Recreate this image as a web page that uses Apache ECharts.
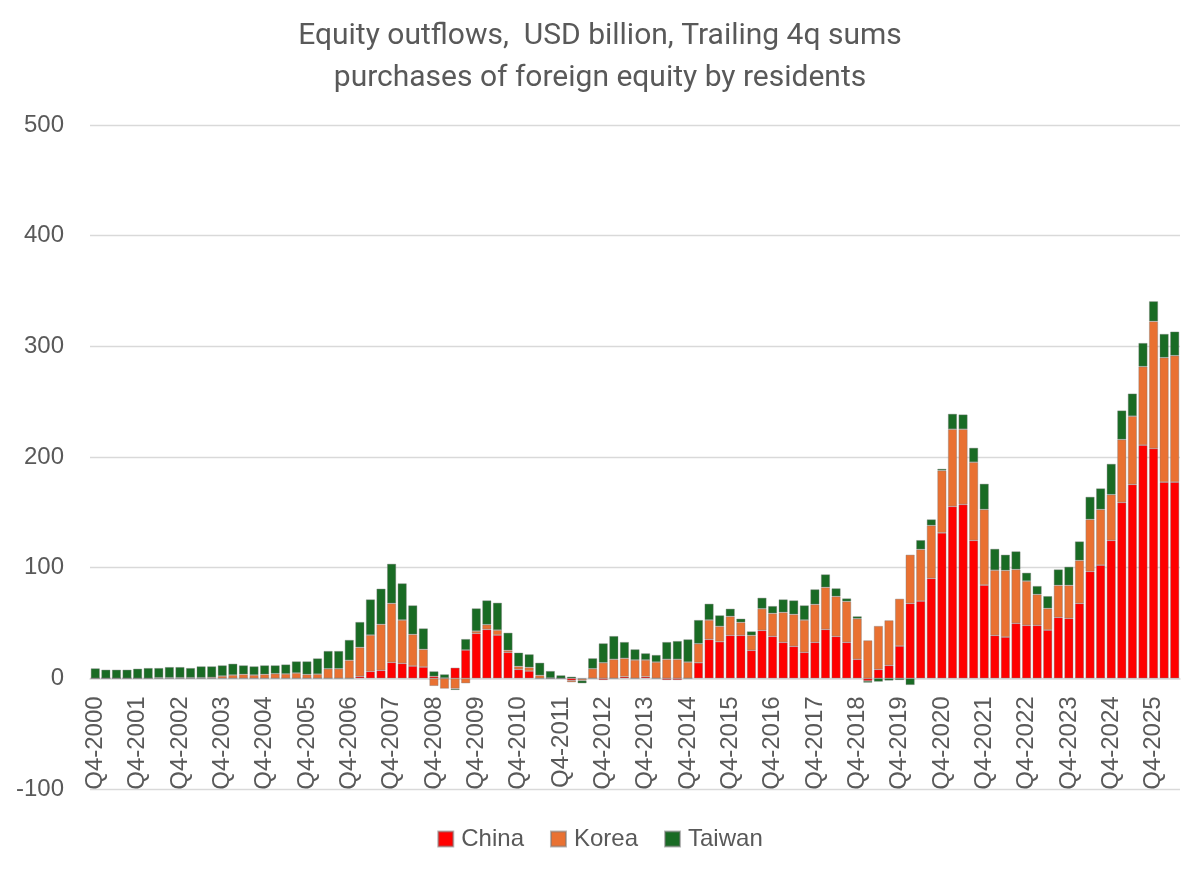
<!DOCTYPE html>
<html>
<head>
<meta charset="utf-8">
<script src="https://cdn.jsdelivr.net/npm/echarts@6.0.0/dist/echarts.min.js"></script>
<style>
  html, body { margin: 0; padding: 0; background: #fff; }
  #chart { width: 1200px; height: 872px; }
</style>
</head>
<body>
<div id="chart"></div>
<script>
// trailing 4q sums, USD billion, one value per quarter from Q4-2000
const china = [
    0, 0, 0, 0, 0, 0, 0, 0, 0, 0,
    0, 0, 0, 0, 0, 0, 0, 0, 0, 0,
    0, 0, 0, 0, 0, 1.8, 6.3, 7.2, 14.4, 13.5,
    11.1, 10.2, 1.8, 0.3, 9.6, 25.6, 40.6, 44.2, 39.1, 23.5,
    8.1, 6.6, 0, 0, 0, -2, -0.5, 0, -1.5, 0,
    1.5, 0, 1.5, 0, -1.5, -1.5, 0, 14.1, 35.2, 33.1,
    38.8, 38.8, 25.3, 43.3, 37.9, 32.5, 28.9, 23.5, 32.5, 44.2,
    37.9, 32.5, 17.2, -2.4, 8.1, 11.7, 29.2, 67.7, 69.8, 90.3,
    131.5, 155.3, 157.1, 124.6, 84.3, 38.8, 37.3, 49.7, 47.9, 47.9,
    43.6, 55.1, 54.2, 67.7, 96.6, 102.3, 124.6, 158.9, 175.2, 210.7,
    207.7, 177.3, 177.3
];
const korea = [
    0, 0, 0, 0, 0, 0, 0.6, 0.6, 0.6, 0.6,
    0.6, 0.9, 2.1, 3.0, 3.6, 3.0, 3.6, 4.2, 4.0, 4.8,
    3.5, 3.8, 8.7, 8.7, 16.3, 26.2, 32.8, 41.6, 53.3, 39.2,
    28.6, 16.0, -6.9, -9.3, -9.3, -4.5, 2.1, 4.3, 4.5, 1.8,
    2.7, 3.3, 2.7, 0.3, 0, -1.5, -1.5, 8.7, 14.1, 17.2,
    16.6, 16.6, 15.1, 14.7, 17.2, 17.2, 14.7, 17.2, 17.5, 13.9,
    17.2, 11.8, 13.5, 19.6, 20.8, 27.1, 28.9, 29.2, 34.3, 38.0,
    36.1, 37.0, 36.7, 34.3, 39.2, 40.7, 42.7, 44.0, 46.7, 47.8,
    56.3, 69.8, 68.0, 70.7, 68.3, 58.9, 60.2, 48.7, 40.0, 27.9,
    19.6, 28.9, 29.8, 38.8, 47.0, 50.3, 41.4, 56.9, 61.7, 71.0,
    114.9, 112.5, 114.3
];
const taiwan = [
    9.0, 7.8, 7.8, 7.8, 8.7, 9.3, 8.7, 9.6, 9.6, 8.7,
    10.2, 9.9, 9.6, 10.2, 8.1, 7.8, 8.1, 7.5, 8.5, 10.5,
    11.8, 14.2, 16.0, 16.0, 18.4, 22.9, 32.2, 32.2, 35.8, 33.1,
    26.2, 18.9, 4.5, 3.3, -1.2, 9.9, 20.5, 21.9, 24.7, 15.9,
    12.4, 11.8, 11.4, 6.3, 2.7, 1.5, -2.5, 9.4, 17.5, 21.0,
    14.7, 9.6, 6.0, 6.4, 15.6, 16.5, 20.5, 21.4, 14.7, 9.9,
    6.9, 3.3, 3.6, 9.9, 6.6, 11.7, 12.6, 13.2, 13.6, 11.7,
    7.3, 2.7, 2.1, -1.5, -3, -2, -1.5, -6, 8.4, 5.5,
    1.5, 13.9, 13.3, 13.0, 23.2, 19.3, 14.2, 16.3, 7.5, 7.6,
    11.1, 14.4, 16.8, 17.2, 20.4, 19.0, 27.8, 26.2, 20.4, 21.3,
    18.1, 21.4, 21.7
];

// quarter labels Q4-2000 .. Q2-2026
const quarters = [];
for (let k = 0; k < china.length; k++) {
    const q = (3 + k) % 4 + 1;
    const y = 2000 + Math.floor((3 + k) / 4);
    quarters.push('Q' + q + '-' + y);
}

const seriesNames = ['China', 'Korea', 'Taiwan'];
const seriesColors = ['#ff0000', '#e97132', '#196b24'];
const seriesData = [china, korea, taiwan];

const yMin = -100;
const yMax = 500;
const gridTop = 125;
const gridBottom = 83;
const chartHeight = 872;

const chart = echarts.init(document.getElementById('chart'));

const labelFont = '"Liberation Sans", Arial, sans-serif';

// category axis sits on the zero line, labels hang below it
const plotHeight = chartHeight - gridTop - gridBottom;
const zeroOffset = -plotHeight * (0 - yMin) / (yMax - yMin);

const option = {
    animation: false,
    backgroundColor: '#fff',
    title: {
        text: 'Equity outflows,  USD billion, Trailing 4q sums\npurchases of foreign equity by residents',
        left: 'center',
        top: 15,
        padding: 0,
        textStyle: {
            fontFamily: 'Roboto, sans-serif',
            fontSize: 30,
            fontWeight: 'normal',
            color: '#595959',
            lineHeight: 42
        }
    },
    legend: {
        data: seriesNames,
        top: 822,
        left: 'center',
        icon: 'rect',
        itemWidth: 15,
        itemHeight: 15,
        itemGap: 26,
        textStyle: {
            fontFamily: labelFont,
            fontSize: 24,
            color: '#595959',
            padding: [0, 0, 0, 3]
        }
    },
    grid: {
        left: 90,
        right: 20,
        top: gridTop,
        bottom: gridBottom,
        containLabel: false,
        outerBoundsMode: 'none'
    },
    xAxis: {
        type: 'category',
        data: quarters,
        offset: zeroOffset,
        axisLine: {
            onZero: false,
            lineStyle: { color: '#d9d9d9', width: 1.5 }
        },
        axisTick: { show: false },
        axisLabel: {
            interval: 3,
            rotate: 90,
            margin: 18,
            fontFamily: labelFont,
            fontSize: 24,
            color: '#595959'
        }
    },
    yAxis: {
        type: 'value',
        min: yMin,
        max: yMax,
        interval: 100,
        axisLine: { show: false },
        axisTick: { show: false },
        axisLabel: {
            margin: 26,
            fontFamily: labelFont,
            fontSize: 24,
            color: '#595959'
        },
        splitLine: {
            lineStyle: { color: '#d9d9d9', width: 1.3 }
        }
    },
    series: seriesNames.map((name, i) => ({
        name: name,
        type: 'bar',
        stack: 'total',
        barCategoryGap: '15%',
        data: seriesData[i],
        itemStyle: {
            color: seriesColors[i],
            borderColor: 'rgba(120,120,120,0.55)',
            borderWidth: 0.7
        }
    }))
};

chart.setOption(option);
</script>
</body>
</html>
